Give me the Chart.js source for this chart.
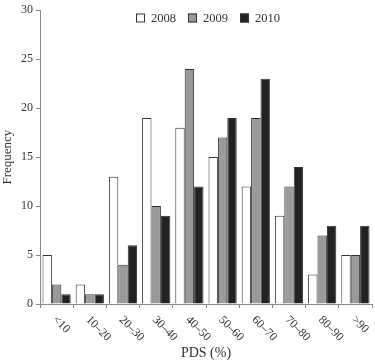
<!DOCTYPE html>
<html>
<head>
<meta charset="utf-8">
<script src="https://cdn.jsdelivr.net/npm/chart.js@4.4.0/dist/chart.umd.min.js"></script>
<style>
  html, body { margin: 0; padding: 0; background: #fff; }
  #wrap { width: 375px; height: 362px; position: relative; }
</style>
</head>
<body>
<div id="wrap"><canvas id="chart"></canvas></div>
<script>
const categories = ['<10', '10\u201320', '20\u201330', '30\u201340', '40\u201350', '50\u201360', '60\u201370', '70\u201380', '80\u201390', '>90'];
const years = ['2008', '2009', '2010'];
const values2008 = [5, 2, 13, 19, 18, 15, 12, 9, 3, 5];
const values2009 = [2, 1, 4, 10, 24, 17, 19, 12, 7, 5];
const values2010 = [1, 1, 6, 9, 12, 19, 23, 14, 8, 8];
const yTicks = [0, 5, 10, 15, 20, 25, 30];

const FONT = "'Liberation Serif', 'Times New Roman', serif";
const fills = ['#ffffff', '#9a9a9a', '#222222'];

// rotated x labels (reading down to the right) and the legend in the plot area
const extras = {
  id: 'extras',
  afterDraw(chart) {
    const ctx = chart.ctx;
    const xs = chart.scales.x;
    ctx.save();
    ctx.fillStyle = '#333';
    ctx.font = '12px ' + FONT;
    ctx.textAlign = 'left';
    ctx.textBaseline = 'middle';
    categories.forEach((label, i) => {
      const x = xs.getPixelForValue(i);
      ctx.save();
      ctx.translate(x - 2, xs.top + 14);
      ctx.rotate(Math.PI / 4);
      ctx.fillText(label, 0, 0);
      ctx.restore();
    });

    // legend
    ctx.font = '12.5px ' + FONT;
    let lx = 136;
    const ly = 18;
    chart.data.datasets.forEach((ds, i) => {
      ctx.fillStyle = ds.backgroundColor;
      ctx.fillRect(lx, ly - 4.5, 9, 9);
      ctx.strokeStyle = '#333';
      ctx.lineWidth = 1;
      ctx.strokeRect(lx + 0.5, ly - 4, 8, 8);
      ctx.fillStyle = '#333';
      ctx.fillText(ds.label, lx + 15, ly + 1);
      lx += 15 + ctx.measureText(ds.label).width + 12;
    });
    ctx.restore();
  }
};

const makeSet = (label, data, i) => ({
  label: label,
  data: data,
  backgroundColor: fills[i],
  borderColor: '#333',
  borderWidth: 1,
  categoryPercentage: 0.85,
  barPercentage: 1.0
});

new Chart(document.getElementById('chart'), {
  type: 'bar',
  data: {
    labels: categories,
    datasets: [
      makeSet(years[0], values2008, 0),
      makeSet(years[1], values2009, 1),
      makeSet(years[2], values2010, 2)
    ]
  },
  options: {
    responsive: true,
    maintainAspectRatio: false,
    animation: false,
    layout: { padding: { top: 7, right: 3, left: 0, bottom: 0 } },
    plugins: {
      legend: { display: false },
      tooltip: { enabled: false }
    },
    scales: {
      x: {
        grid: { offset: true, drawOnChartArea: false, drawTicks: true, tickLength: 4, color: '#888' },
        border: { color: '#888', width: 1 },
        ticks: { display: false },
        afterFit: scale => { scale.height = 58; },
        title: { display: true, text: 'PDS (%)', color: '#333', font: { family: FONT, size: 14 }, padding: 0 }
      },
      y: {
        min: 0,
        max: 30,
        afterBuildTicks: scale => { scale.ticks = yTicks.map(v => ({ value: v })); },
        grid: { drawOnChartArea: false, drawTicks: true, tickLength: 4, color: '#888' },
        border: { color: '#888', width: 1 },
        ticks: { color: '#333', padding: 3, font: { family: FONT, size: 12 } },
        afterFit: scale => { scale.width = 40; },
        title: { display: true, text: 'Frequency', color: '#333', font: { family: FONT, size: 13 }, padding: 0 }
      }
    }
  },
  plugins: [extras]
});
</script>
</body>
</html>
